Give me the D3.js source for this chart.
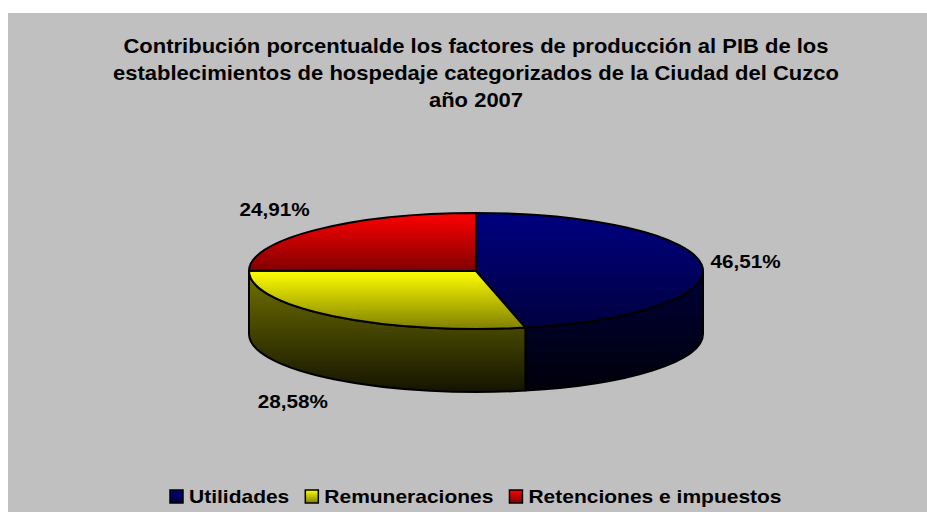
<!DOCTYPE html>
<html>
  <head>
    <meta charset="UTF-8" />
    <title>Contribución porcentual PIB Cuzco 2007</title>
    <style>
      body { margin: 0; background: #ffffff; }
      svg { display: block; font-family: "Liberation Sans", Arial, sans-serif; }
    </style>
  </head>
  <body>
    <svg></svg>
    <script src="https://d3js.org/d3.v7.min.js"></script>
    <script>
      // data
      const categories = ["Utilidades", "Remuneraciones", "Retenciones e impuestos"];
      const values = [46.51, 28.58, 24.91];
      const valueLabels = ["46,51%", "28,58%", "24,91%"];
      const colors = ["#000080", "#ffff00", "#ff0000"];
      const titleLines = [
        "Contribución porcentualde los factores de producción al PIB de los",
        "establecimientos de hospedaje categorizados de la Ciudad del Cuzco",
        "año 2007"
      ];

      let width = 927, height = 512;
      let svg = d3.select("svg").attr("width", width).attr("height", height);
      let stretch = 1.09; // the original font is a bit wider than Arial

      // grey chart area
      svg.append("rect")
        .attr("x", 8).attr("y", 13)
        .attr("width", width - 8).attr("height", height - 13)
        .attr("fill", "#c0c0c0");

      let cx = 476, cy = 271, rx = 227, ry = 58, depth = 63;

      let defs = svg.append("defs");
      function shade(c, k) {
        return d3.interpolateRgb("#000000", c)(k);
      }
      function grad(id, c1, c2) {
        let g = defs.append("linearGradient").attr("id", id)
          .attr("x1", 0).attr("y1", 0).attr("x2", 0).attr("y2", 1);
        g.append("stop").attr("offset", "0%").attr("stop-color", c1);
        g.append("stop").attr("offset", "100%").attr("stop-color", c2);
      }
      colors.forEach((c, i) => {
        grad("top" + i, c, shade(c, 0.5));
        grad("side" + i, shade(c, 0.45), shade(c, 0.08));
      });

      // clockwise from 12 o'clock
      let pie = d3.pie().sort(null).value((d) => d);
      let arcs = pie(values);

      function pt(a, dy) {
        return [cx + rx * Math.sin(a), cy - ry * Math.cos(a) + (dy || 0)];
      }

      // side walls (front half only)
      let sides = svg.append("g").attr("id", "sides");
      arcs.forEach((d, i) => {
        let a0 = Math.max(d.startAngle, Math.PI / 2);
        let a1 = Math.min(d.endAngle, Math.PI * 1.5);
        if (a1 <= a0) return;
        let p0 = pt(a0), p1 = pt(a1), q1 = pt(a1, depth), q0 = pt(a0, depth);
        let path = "M" + p0 + "A" + rx + "," + ry + " 0 0,1 " + p1 +
          "L" + q1 + "A" + rx + "," + ry + " 0 0,0 " + q0 + "Z";
        sides.append("path")
          .attr("d", path)
          .attr("fill", "url(#side" + i + ")")
          .attr("stroke", "#000")
          .attr("stroke-width", 2)
          .attr("stroke-linejoin", "round");
      });

      // top faces
      let tops = svg.append("g").attr("id", "tops");
      arcs.forEach((d, i) => {
        let p0 = pt(d.startAngle), p1 = pt(d.endAngle);
        let large = d.endAngle - d.startAngle > Math.PI ? 1 : 0;
        let path = "M" + cx + "," + cy + "L" + p0 + "A" + rx + "," + ry +
          " 0 " + large + ",1 " + p1 + "Z";
        tops.append("path")
          .attr("d", path)
          .attr("fill", "url(#top" + i + ")")
          .attr("stroke", "#000")
          .attr("stroke-width", 2)
          .attr("stroke-linejoin", "round");
      });

      // data labels
      svg.append("g").selectAll("text")
        .data(arcs)
        .enter()
        .append("text")
        .attr("transform", (d) => {
          let m = (d.startAngle + d.endAngle) / 2;
          let c = Math.cos(m);
          let x = cx + (rx + 9) * Math.sin(m);
          let y = cy - (ry + 29) * c + (c < 0 ? depth : 0);
          return "translate(" + x + "," + y + ") scale(" + stretch + ",1)";
        })
        .attr("text-anchor", (d) => Math.sin((d.startAngle + d.endAngle) / 2) < 0 ? "end" : "start")
        .attr("dominant-baseline", "central")
        .style("font-size", "19px")
        .style("font-weight", "bold")
        .text((d, i) => valueLabels[i]);

      // title
      svg.append("g").selectAll("text")
        .data(titleLines)
        .enter()
        .append("text")
        .attr("transform", (d, i) => "translate(" + cx + "," + (53 + i * 27) + ") scale(" + 1.1 + ",1)")
        .attr("text-anchor", "middle")
        .style("font-size", "20px")
        .style("font-weight", "bold")
        .text((d) => d);

      // legend
      let legend = svg.append("g").attr("class", "legend");
      let lx = 169, legStretch = 1.105;
      categories.forEach((c, i) => {
        let g = legend.append("g");
        g.append("rect")
          .attr("x", 1).attr("y", 490)
          .attr("width", 13).attr("height", 13)
          .attr("fill", "url(#top" + i + ")")
          .attr("stroke", "#000")
          .attr("stroke-width", 1.5);
        let t = g.append("text")
          .attr("transform", "translate(20,503) scale(" + legStretch + ",1)")
          .style("font-size", "19px")
          .style("font-weight", "bold")
          .text(c);
        let w = t.node().getComputedTextLength() * legStretch;
        g.attr("transform", "translate(" + lx + ",0)");
        lx += 20 + w + 15;
      });
    </script>
  </body>
</html>
